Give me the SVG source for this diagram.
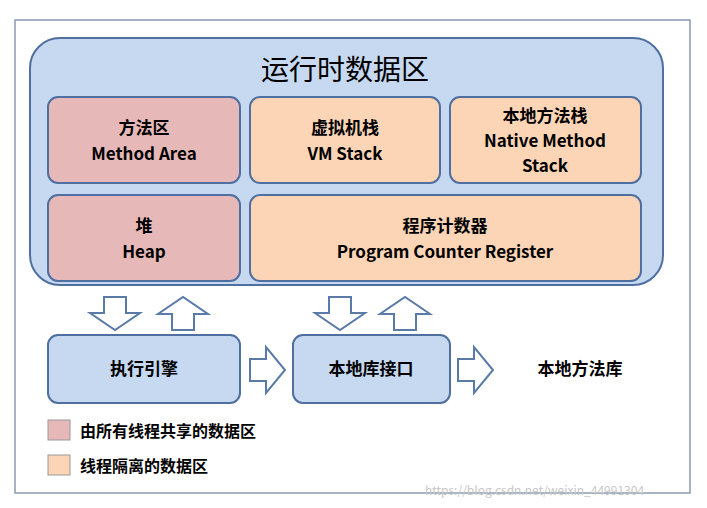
<svg xmlns="http://www.w3.org/2000/svg" width="707" height="508" viewBox="0 0 707 508">
<style>
text{font-family:"Noto Sans CJK SC","Liberation Sans",sans-serif;fill:#000;text-anchor:middle}
.b{stroke:#4f6fa0;stroke-width:2}
.p{fill:#e6b9b8}.o{fill:#fbd5b5}.l{fill:#c6d9f1}
.t{font-size:17px;font-weight:bold}
.lg{font-size:16px;text-anchor:start;font-weight:bold}
.a{fill:#fff;stroke:#5a7aa8;stroke-width:2}
</style>
<rect width="707" height="508" fill="#fff"/>
<rect x="15" y="20" width="675" height="473" fill="none" stroke="#8a9bb0" stroke-width="1.5"/>
<g id="runtime"><rect class="b l" x="30" y="38" width="633" height="247" rx="30"/>
<text x="345" y="80" font-size="28">运行时数据区</text></g>
<g id="method"><rect class="b p" x="48" y="97" width="192" height="86" rx="10"/><text class="t" x="144" y="134">方法区</text><text class="t" x="144" y="160">Method Area</text></g>
<g id="vmstack"><rect class="b o" x="250" y="97" width="190" height="86" rx="10"/><text class="t" x="345" y="134">虚拟机栈</text><text class="t" x="345" y="160">VM Stack</text></g>
<g id="native"><rect class="b o" x="450" y="97" width="191" height="86" rx="10"/><text class="t" x="545" y="122">本地方法栈</text><text class="t" x="545" y="147">Native Method</text><text class="t" x="545" y="172">Stack</text></g>
<g id="heap"><rect class="b p" x="48" y="195" width="192" height="86" rx="10"/><text class="t" x="144" y="232">堆</text><text class="t" x="144" y="258">Heap</text></g>
<g id="pc"><rect class="b o" x="250" y="195" width="391" height="86" rx="10"/><text class="t" x="445" y="232">程序计数器</text><text class="t" x="445" y="258">Program Counter Register</text></g>
<g id="engine"><rect class="b l" x="48" y="335" width="192" height="68" rx="10"/><text class="t" x="144" y="375">执行引擎</text></g>
<g id="jni"><rect class="b l" x="293" y="335" width="157" height="68" rx="10"/><text class="t" x="371" y="375">本地库接口</text></g>
<g id="lib"><text class="t" x="580" y="375">本地方法库</text></g>
<g id="connectors">
<path class="a" d="M104,297h22v16h14l-25,17l-25,-17h14z"/>
<path class="a" d="M172,330h22v-16h14l-25,-17l-25,17h14z"/>
<path class="a" d="M329,297h22v16h14l-25,17l-25,-17h14z"/>
<path class="a" d="M394,330h22v-16h14l-25,-17l-25,17h14z"/>
<path class="a" d="M250,359h16v-12l19,23l-19,23v-12h-16z"/>
<path class="a" d="M458,359h16v-12l19,23l-19,23v-12h-16z"/>
</g>
<g id="legend">
<rect class="p" x="48" y="420" width="22" height="20" stroke="#999"/><text class="lg" x="80" y="437">由所有线程共享的数据区</text>
<rect class="o" x="48" y="455" width="22" height="20" stroke="#999"/><text class="lg" x="80" y="472">线程隔离的数据区</text>
</g>
<text x="425" y="495" font-size="12" style="fill:#c8c8c8;text-anchor:start">https://blog.csdn.net/weixin_44991304</text>
</svg>
